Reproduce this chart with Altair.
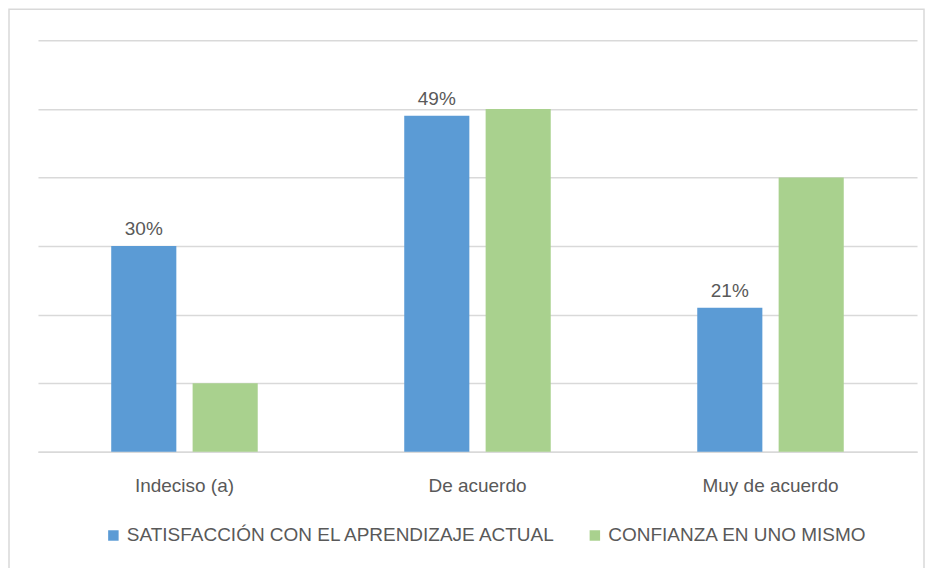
import altair as alt
import pandas as pd

categories = ["Indeciso (a)", "De acuerdo", "Muy de acuerdo"]
series = ["SATISFACCIÓN CON EL APRENDIZAJE ACTUAL", "CONFIANZA EN UNO MISMO"]
satisfaccion = [30, 49, 21]
confianza = [10, 50, 40]
colors = ["#5B9BD5", "#A9D18E"]

rows = []
for c, s, f in zip(categories, satisfaccion, confianza):
    rows.append({"cat": c, "serie": series[0], "val": s, "label": f"{s}%"})
    rows.append({"cat": c, "serie": series[1], "val": f, "label": ""})
df = pd.DataFrame(rows)

FONT = "Liberation Sans"
W, H = 880, 412

x = alt.X("cat:N", sort=categories, title=None,
          scale=alt.Scale(paddingInner=0.5, paddingOuter=0.25),
          axis=alt.Axis(labelAngle=0, labelFontSize=19, labelColor="#595959",
                        labelFont=FONT, labelPadding=25, ticks=False,
                        domain=True, domainColor="#d9d9d9", domainWidth=1.5))
y = alt.Y("val:Q", title=None,
          scale=alt.Scale(domain=[0, 60], nice=False),
          axis=alt.Axis(values=[0, 10, 20, 30, 40, 50, 60], labels=False, ticks=False,
                        domain=False, grid=True, gridColor="#d9d9d9", gridWidth=1.5))
xoff = alt.XOffset("serie:N", sort=series,
                   scale=alt.Scale(paddingInner=0.2, paddingOuter=0))
color = alt.Color("serie:N", sort=series,
                  scale=alt.Scale(domain=series, range=colors),
                  legend=alt.Legend(orient="none", legendX=66, legendY=486,
                                    direction="horizontal", title=None,
                                    symbolType="square", symbolSize=110, symbolStrokeWidth=0,
                                    labelFontSize=19, labelFont=FONT, labelColor="#595959",
                                    columnPadding=28, symbolOffset=0,
                                    labelLimit=700))

base = alt.Chart(df)
bars = base.mark_bar().encode(x=x, y=y, xOffset=xoff, color=color)
labels = base.mark_text(dy=-17, fontSize=19, font=FONT, color="#595959").encode(
    x=x, y=y, xOffset=xoff, text="label:N")

border = alt.Chart(pd.DataFrame({"a": [0]})).mark_rect(
    fill=None, stroke="#d9d9d9", strokeWidth=1.5, clip=False).encode(
    x=alt.value(-29), x2=alt.value(W + 7), y=alt.value(-31), y2=alt.value(H + 140))

chart = alt.layer(border, bars, labels).properties(
    width=W, height=H,
    padding=0,
    background="white",
).configure_view(stroke=None)

chart.save("out.html", embed_options={"renderer": "svg", "actions": False})
